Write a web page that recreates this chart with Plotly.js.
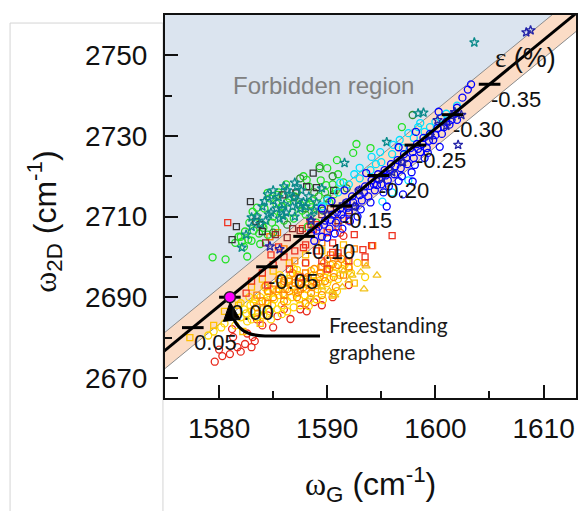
<!DOCTYPE html>
<html><head><meta charset="utf-8">
<script src="https://cdn.plot.ly/plotly-3.0.1.min.js"></script>
<style>html,body{margin:0;padding:0;background:#fff}#chart{width:579px;height:511px}</style>
</head><body><div id="chart"></div>
<script>
// ---- strain line model ----
const freeX = [1581.0];          // freestanding graphene ωG
const freeY = [2690.0];          // freestanding graphene ω2D
const lineSlope = 2.2;
const bandHalf = 4.5;
const strainStepX = -68.6;       // ωG shift per 1 % strain along the line
const strainVals = [0.05, 0.00, -0.05, -0.10, -0.15, -0.20, -0.25, -0.30, -0.35];
const xTicks = [1580, 1590, 1600, 1610];
const yTicks = [2670, 2690, 2710, 2730, 2750];

// ---- measured data ----
const greenCircX = [1579.4,1580.6,1582.6,1592.7,1594,1592.4,1590.9,1590,1596.9,1589.3,1581.5,1582,1582.3,1583,1583.2,1583.8,1584,1584.5,1585,1585.2,1585.8,1586,1586.5,1586.8,1587.2,1587.5,1588,1588.3,1588.6,1589,1589.4,1589.8,1590.2,1590.5,1591,1584.2,1583.5,1582.8,1585.5,1586.2,1587.8,1589,1588.2,1590.8,1591.5,1584.5,1585.4,1584.7,1588.1,1583.5,1581.8,1582.7,1582.4,1584.1,1584.9,1585.7,1586.3,1587,1587.7,1588.4,1589.2,1589.9,1590.6,1585.3,1583.1,1582.1,1583.7,1586.9];
const greenCircY = [2699.9,2699.4,2700.1,2728,2727,2725.8,2724,2722,2732.2,2722.5,2703.5,2705,2702.5,2704,2706.5,2703.2,2708,2705.5,2710,2707,2712.5,2709,2714.5,2711,2716,2713,2710.5,2717.5,2714,2712,2719,2716,2713.5,2718,2720.5,2712,2710,2708.5,2716,2718,2720,2708.5,2707.5,2716.5,2718.5,2715.9,2715.4,2714.5,2719.1,2712.2,2705,2704.3,2706.3,2707.2,2708.5,2710.8,2713.5,2715,2711.5,2713,2715,2717.8,2715.5,2713.2,2711.2,2703.8,2705.8,2709.5];
const darkGreenCircX = [1589.3,1597.9,1590.5,1588.8,1587.5,1586.3,1589.6,1590,1585,1591.8,1587,1588];
const darkGreenCircY = [2722,2735.2,2720,2716,2719.5,2708,2711.5,2714.5,2706,2717,2714.8,2712];
const tealStarX = [1583.5,1584,1584.3,1584.8,1585,1585.3,1585.6,1586,1586.2,1586.5,1586.8,1587,1587.3,1587.6,1588,1588.3,1585,1584.5,1583,1582.5,1588.5,1589,1589.5,1586,1587,1603.6,1598.4,1598.9,1595.5,1591.6,1582.1,1583,1585.8,1587.8,1585.5,1586.3,1587.5,1584.6,1586.9,1588.8,1585.9,1584.2,1583.8,1587.2];
const tealStarY = [2710,2712.5,2709,2711,2714,2712,2709.5,2713,2711,2715.5,2712.5,2710,2714,2716.5,2712.5,2715,2716.5,2715.5,2707.5,2705.5,2710,2713.5,2717,2717.5,2718.4,2753.2,2735.6,2735.8,2728.5,2723.3,2702.3,2709.8,2711.8,2713.6,2714.8,2716.5,2712,2710.5,2714.8,2711.5,2710.2,2713.8,2708.2,2717.5];
const blackSqX = [1582.9,1581.6,1581.2,1588.7,1585.9,1587.1,1588.1,1589,1583.4,1583.8,1584,1590.6];
const blackSqY = [2713.7,2707.5,2704.3,2720.8,2715.4,2715.9,2717.4,2717.2,2708.8,2708,2706.3,2716.5];
const brownSqX = [1586.3,1585.2,1587.5,1588.5,1589.5,1586.8,1590.3,1584.3,1591,1592];
const brownSqY = [2704.8,2705.5,2706.5,2708,2710.5,2707,2712,2703.5,2709,2711.5];
const navyStarX = [1608.4,1608.8,1602.1,1585.6,1584.7,1588.5,1590,1591.5,1593,1595,1597,1599.5,1601.5,1602.4,1600.2,1601,1596,1592.5,1601.8];
const navyStarY = [2755.7,2756.2,2727.8,2701.9,2702.6,2709,2710.5,2713,2716.5,2719.5,2723.5,2730,2735,2735.2,2733.9,2732.5,2721,2712.5,2735.9];
const blueCircX = [1588.5,1588.8,1589.2,1589.5,1589.8,1590.2,1590.5,1590.8,1591.2,1591.5,1591.8,1592,1592.3,1592.6,1592.9,1593.2,1593.5,1593.8,1594.1,1594.4,1594.7,1595,1595.3,1595.6,1595.9,1596.2,1596.5,1596.8,1597.1,1597.4,1597.7,1598,1598.3,1598.6,1598.9,1599.2,1599.5,1599.8,1600.2,1600.6,1601,1601.5,1602,1602.5,1603,1603.3,1600.4,1597.8,1596.6,1595.2,1594,1592.8,1591.4,1590,1595.5,1597,1593.6,1591.6,1590.4,1599,1598.2,1596.6,1589.5,1602,1600.3,1597.9,1589,1589.7,1590.3,1590.9,1591.3,1591.9,1592.4,1593,1593.4,1593.9,1594.3,1594.8,1595.4,1595.8,1596.3,1596.9,1597.3,1597.9,1598.4,1598.8,1599.4,1600,1600.8,1601.3,1601.8,1594.6,1595.7,1596.9,1598.1,1599.3,1592.1,1593.1,1590.7];
const blueCircY = [2706,2704,2707.5,2705,2709,2707,2710.5,2708.5,2712,2709.5,2713.5,2711,2715,2712.5,2716.5,2714,2717.5,2715,2719,2716.5,2720.5,2718,2721.5,2719,2723,2720.5,2724,2722,2725.5,2723,2727,2724.5,2728,2726,2729.5,2727,2730.5,2729,2732,2730.5,2733.5,2734,2737,2739.5,2741.5,2742.8,2727.3,2721,2718.8,2716,2713.5,2710,2707,2704.8,2712.5,2715.5,2720.8,2716.5,2713.8,2724.5,2731,2727.2,2712,2734,2736,2718.7,2706.5,2708,2709.2,2711,2710.5,2712.2,2713.5,2715.3,2716,2717.6,2718,2719.2,2720.2,2721.5,2722.5,2723.6,2724.5,2726,2726.8,2728,2728.8,2730.2,2732.2,2732.8,2735.5,2717.8,2717.5,2720,2722.8,2725.8,2708.8,2711.8,2705.8];
const cyanCircX = [1593,1594.1,1594.9,1596.1,1596.7,1597.5,1598.4,1591.2,1598.6,1599.5,1590,1591,1592,1593,1594,1595,1596,1597,1598,1599,1600,1601,1602,1595.1,1596,1597.5,1589.5,1592.5,1594.5,1600.5];
const cyanCircY = [2722.1,2724.8,2726,2727.8,2729,2730.7,2732.2,2718.4,2733.2,2732.2,2714,2716,2718,2719.5,2721.5,2723.5,2725.5,2727,2729.5,2731,2733.5,2735.5,2737.5,2713.7,2716,2719,2712.5,2720.5,2723,2734.5];
const redSqX = [1580.8,1596,1594.1,1593.3,1587.7,1588.4,1589,1590,1591,1592,1588,1589,1590.5,1592.5,1586,1587,1585,1586.5,1588,1589.5,1591,1584,1583,1582.5,1584.5,1587.5,1590,1592,1593.5,1585.5,1584.8,1588.7,1587.8,1590.5];
const redSqY = [2708.5,2705.3,2702.8,2701.8,2707,2708.8,2708,2706,2707.5,2709,2703,2701.5,2703.5,2705.5,2700,2701.5,2698,2697,2698.5,2699,2701,2696,2694,2691,2693,2695,2697,2699,2700,2702.5,2700.5,2706.8,2702.3,2701.1];
const orangeSqX = [1594.2,1592.5,1591,1589.5,1588,1586.5,1585,1583.5,1587,1590.3,1592,1593.5,1591.5,1589,1587.5,1586,1584.5,1584.7,1585.4,1589.5,1586];
const orangeSqY = [2702.8,2702,2700,2697.5,2696,2694,2692,2690.5,2699,2700.5,2697.5,2698.5,2695.5,2693.5,2692,2690.5,2688.5,2705,2706,2703.5,2702];
const orangeCircX = [1585,1585.5,1586,1586.5,1587,1587.2,1587.8,1588.2,1588.5,1589,1589.4,1589.8,1590.2,1590.6,1591,1584.5,1584,1583.5,1586,1588,1589.5,1590.8,1585.8,1586.3,1587.5,1588,1588.8,1589.3,1589.7,1590,1590.5,1591.3,1592,1586.8,1585.5,1584.3,1587.3,1588.6];
const orangeCircY = [2690,2692,2689,2691.5,2693.5,2690,2692.5,2695,2691,2693,2696,2694,2697,2695,2698,2691.5,2689,2687.5,2694,2688.5,2690.5,2692.5,2693,2692,2694.8,2693.8,2697,2695,2698.5,2699.5,2698.2,2699.5,2700.3,2696,2694.5,2692.8,2691.2,2692.5];
const yellowCircX = [1582,1582.3,1582.6,1583,1583.2,1583.5,1583.8,1584,1584.3,1584.6,1584.9,1585.2,1585.5,1585.8,1586.1,1586.4,1586.7,1587,1587.3,1587.6,1587.9,1588.2,1588.5,1588.8,1589.1,1589.4,1589.7,1590,1590.3,1590.6,1591,1591.4,1591.8,1592.2,1581.5,1581.2,1582.8,1584.2,1585.6,1586.9,1588,1586.3,1587.5,1589,1590.5,1579,1580.5,1592.8,1593.5,1582.5,1583,1583.6,1584.1,1584.7,1585.1,1585.4,1585.9,1586.3,1586.8,1587.1,1587.4,1587.8,1588.1,1588.4,1588.7,1589.2,1589.5,1589.9,1590.2,1590.8,1591.2,1591.6,1592,1583.3,1584.5,1585.3,1586,1586.6,1587.2,1582,1582.9,1584.8,1585.8,1586.9,1588.3,1589.6,1590.9,1579.5,1580.2];
const yellowCircY = [2685,2687,2684,2686.5,2688.5,2685,2690,2687,2689,2691,2688,2693,2690.5,2688,2692,2694.5,2690,2692,2695.5,2693.5,2690.5,2693,2696.5,2694,2692,2697.5,2695,2693.5,2698,2696,2694.5,2697,2699,2696,2683,2686,2690,2692.5,2695.5,2697,2698.5,2686.5,2688,2689.5,2691,2680.5,2683.5,2698.5,2695,2686,2684.5,2686,2685.5,2686.5,2689.5,2687,2691,2689,2692.8,2691,2689.5,2694.5,2692,2689.5,2695.5,2694,2691.5,2696.5,2694.5,2697.5,2695.5,2698,2697.2,2689.5,2690,2691.5,2693.5,2695.5,2696.8,2688.5,2688,2684.5,2685.8,2687.5,2687.8,2689.3,2691.5,2681.5,2682.5];
const goldSqX = [1577.3,1579.5,1580.5,1581.8,1583,1584,1585,1586.5,1588,1582.2,1583.8,1589.5,1591.5,1590.5,1592.5];
const goldSqY = [2680,2683,2686.5,2688,2692.5,2694.5,2696.5,2698.5,2700.5,2681.5,2683.5,2701.5,2703,2690.5,2693.5];
const yellowTriX = [1594.6,1593.6,1593.1,1593.4,1592,1590.2,1591.4,1590.7,1592.3,1591.5,1589.5,1588.5];
const yellowTriY = [2695.4,2697.7,2696.2,2692,2694.2,2691.5,2692.5,2690.5,2695.4,2696.5,2692.5,2690];
const redCircX = [1579.6,1581,1580.3,1581.7,1583,1583.3,1582.4,1581.2,1581.3,1583.1,1582.6,1585.4,1586.6,1587.5,1588.1,1584,1585,1589.5,1590.5,1591.2,1591.5,1592,1588.8,1586,1584.5,1583.5,1580,1582];
const redCircY = [2674,2675.9,2675.4,2677.6,2677.6,2679.1,2678.4,2682.1,2680.1,2680.1,2681,2685.3,2684.6,2687,2686.5,2683,2682.5,2688,2690,2706,2705.2,2693,2688.8,2687,2685.5,2684.5,2677,2676.5];

// ---- derived geometry (from the line model) ----
const lineAt = (x, off) => freeY[0] + lineSlope * (x - freeX[0]) + off;
const ex = [1560, 1630];
const traces = [];
traces.push({x:[ex[0],ex[1],ex[1],ex[0]], y:[lineAt(ex[0],-bandHalf),lineAt(ex[1],-bandHalf),2500,2500],
  fill:'toself', fillcolor:'#ffffff', mode:'none', hoverinfo:'skip', showlegend:false});
traces.push({x:[ex[0],ex[1],ex[1],ex[0]], y:[lineAt(ex[0],-bandHalf),lineAt(ex[1],-bandHalf),lineAt(ex[1],bandHalf),lineAt(ex[0],bandHalf)],
  fill:'toself', fillcolor:'#fbdcc6', mode:'none', hoverinfo:'skip', showlegend:false});
[-bandHalf, bandHalf].forEach(o => traces.push({x:ex, y:ex.map(v=>lineAt(v,o)), mode:'lines',
  line:{color:'#8c8c8c', width:1}, hoverinfo:'skip', showlegend:false}));

function sc(x, y, color, symbol, size) {
  traces.push({x, y, mode:'markers', type:'scatter', showlegend:false, hoverinfo:'skip',
    marker:{symbol, size:size || 7, color, line:{color, width:1.3}}});
}
sc(redCircX, redCircY, '#e8291c', 'circle-open');
sc(yellowCircX, yellowCircY, '#ffd400', 'circle-open');
sc(goldSqX, goldSqY, '#ffc000', 'square-open', 6);
sc(orangeCircX, orangeCircY, '#ff8a00', 'circle-open');
sc(orangeSqX, orangeSqY, '#ff8000', 'square-open', 6);
sc(yellowTriX, yellowTriY, '#f2c21a', 'triangle-up-open');
sc(redSqX, redSqY, '#ee3322', 'square-open', 6);
sc(greenCircX, greenCircY, '#22e022', 'circle-open');
sc(darkGreenCircX, darkGreenCircY, '#2e8b2e', 'circle-open');
sc(blackSqX, blackSqY, '#333333', 'square-open', 6);
sc(brownSqX, brownSqY, '#8b2c2c', 'square-open', 6);
sc(tealStarX, tealStarY, '#0a8a8a', 'star-open');
sc(cyanCircX, cyanCircY, '#00e0ff', 'circle-open');
sc(blueCircX, blueCircY, '#0000ff', 'circle-open');
sc(navyStarX, navyStarY, '#2323a8', 'star-open');

traces.push({x:ex, y:ex.map(v=>lineAt(v,0)), mode:'lines', line:{color:'#000', width:3}, hoverinfo:'skip', showlegend:false});
const tkX = [], tkY = [];
const tickHalf = 1.0;
strainVals.forEach(s => { const cx = freeX[0] + strainStepX * s; const cy = lineAt(cx, 0);
  tkX.push(cx - tickHalf, cx + tickHalf, null); tkY.push(cy, cy, null); });
traces.push({x:tkX, y:tkY, mode:'lines', line:{color:'#000', width:3}, hoverinfo:'skip', showlegend:false, connectgaps:false});
traces.push({x:freeX, y:freeY, mode:'markers', marker:{size:11, color:'#ff00ff', line:{color:'#222', width:1.5}}, hoverinfo:'skip', showlegend:false});

const annotations = strainVals.map(s => { const cx = freeX[0] + strainStepX * s;
  return {x:cx, y:lineAt(cx,0), xref:'x', yref:'y', text:s.toFixed(2), showarrow:false,
    xanchor:'left', yanchor:'middle', xshift:-1, yshift:-15,
    font:{family:'Liberation Sans, Arial', size:22, color:'#111'}}; });
annotations.push(
  {xref:'paper', yref:'paper', x:0.876, y:0.888, text:'<span style="font-family:Liberation Serif">ε</span> (%)', showarrow:false,
   xanchor:'center', yanchor:'middle', font:{family:'Liberation Sans, Arial', size:27, color:'#111'}},
  {xref:'paper', yref:'paper', x:0.386, y:0.817, text:'Forbidden region', showarrow:false,
   xanchor:'center', yanchor:'middle', font:{family:'Liberation Sans, Arial', size:24, color:'#808080'}},
  {xref:'paper', yref:'paper', x:0.394, y:0.157, text:'Freestanding<br>graphene', showarrow:false, align:'left',
   xanchor:'left', yanchor:'middle', font:{family:'Lato', size:21, color:'#1a1a1a'}},
  {xref:'paper', yref:'paper', x:0.501, y:-0.227, text:'<span style="font-family:Liberation Serif">ω</span><sub>G</sub> (cm<sup>-1</sup>)', showarrow:false,
   xanchor:'center', yanchor:'middle', font:{family:'Liberation Sans, Arial', size:32, color:'#111'}},
  {xref:'paper', yref:'paper', x:-0.292, y:0.46, text:'<span style="font-family:Liberation Serif">ω</span><sub>2D</sub> (cm<sup>-1</sup>)', showarrow:false, textangle:-90,
   xanchor:'center', yanchor:'middle', font:{family:'Liberation Sans, Arial', size:32, color:'#111'}}
);

const layout = {
  width:579, height:511, margin:{l:165, r:3, t:15, b:113},
  paper_bgcolor:'#ffffff', plot_bgcolor:'#dbe4ef', showlegend:false,
  xaxis:{range:[1575,1613], tickvals:xTicks, ticks:'inside', ticklen:13, tickwidth:2, tickcolor:'#111',
    minor:{dtick:5, tick0:1575, ticks:'inside', ticklen:7, tickwidth:2, tickcolor:'#111'},
    showgrid:false, zeroline:false, showline:true, mirror:true, linewidth:2, linecolor:'#111',
    tickfont:{family:'Liberation Sans, Arial', size:28, color:'#111'}, ticklabelstandoff:4},
  yaxis:{range:[2665,2760], tickvals:yTicks, ticks:'inside', ticklen:13, tickwidth:2, tickcolor:'#111',
    minor:{dtick:10, tick0:2670, ticks:'inside', ticklen:7, tickwidth:2, tickcolor:'#111'},
    showgrid:false, zeroline:false, showline:true, mirror:true, linewidth:2, linecolor:'#111',
    tickfont:{family:'Liberation Sans, Arial', size:28, color:'#111'}, ticklabelstandoff:10},
  annotations,
  shapes:[
    {type:'rect', xref:'paper', yref:'paper', x0:-0.377, x1:-0.005, y0:-0.33, y1:0.979, line:{color:'#d4d4d4', width:1}, layer:'below'},
    {type:'path', xref:'x', yref:'y', path:'M 1589.33,2680.37 L 1584.25,2680.37 Q 1581.94,2680.37 1581.29,2685.06', line:{color:'#000', width:3}, layer:'above'},
    {type:'path', xref:'x', yref:'y', path:'M 1581.02,2688.77 L 1580.4,2684.0 L 1581.95,2684.5 Z', fillcolor:'#000', line:{color:'#000', width:1}, layer:'above'}
  ]
};
Plotly.newPlot('chart', traces, layout, {staticPlot:true, displayModeBar:false});
</script></body></html>
